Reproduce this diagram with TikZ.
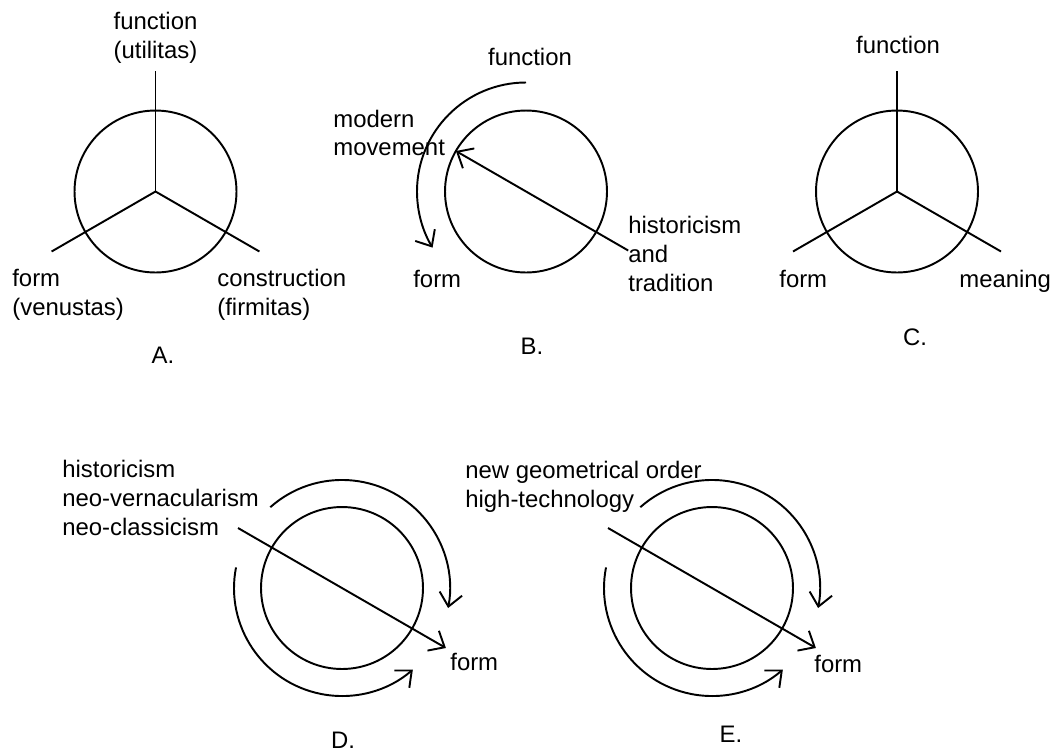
\documentclass[tikz,border=0pt]{standalone}
\usepackage{fontspec}
\setmainfont{Liberation Sans}
\usepackage{tikz}
\usetikzlibrary{arrows.meta}
\tikzset{
  ring/.style={draw, circle, minimum size=3.24cm, inner sep=0pt, line width=1.1pt},
  spoke/.style={draw, line width=1.1pt},
  flow/.style={draw, line width=1.1pt, -{Straight Barb[length=7.5pt, width=13pt, line width=1.1pt]}},
  lbl/.style={font=\fontsize{13.6}{16.3}\selectfont, inner sep=0pt, align=left},
  tag/.style={font=\fontsize{13.6}{16.3}\selectfont, inner sep=0pt, anchor=base},
}

\begin{document}
\begin{tikzpicture}[x=0.02cm, y=0.02cm]
  \useasboundingbox (0,0) rectangle (1054,-751);

  \node[ring] (aRing) at (155.5,-191.5) {};
  \coordinate (aC) at (155.5,-191.5);
  \coordinate (aUp) at (155.5,-71);
  \coordinate (aLeft) at (51.6,-251.5);
  \coordinate (aRight) at (259.4,-251.5);
  \draw[spoke] (aC) -- (aUp);
  \draw[spoke] (aC) -- (aLeft);
  \draw[spoke] (aC) -- (aRight);
  \node[lbl, align=center] (aFun) at (155.5,-38) {function\\(utilitas)};
  \node[lbl, anchor=west] (aForm) at (12,-295) {form\\(venustas)};
  \node[lbl, anchor=west] (aCons) at (217,-295) {construction\\(firmitas)};
  \node[tag] (aTag) at (163,-363) {A.};

  \node[ring] (bRing) at (526,-191.5) {};
  \coordinate (bTop) at (526,-82.5);
  \coordinate (bTail) at (628.2,-250.5);
  \coordinate (bHead) at (455.9,-151);
  \draw[flow] (bTop) arc[start angle=90, end angle=211, radius=109];
  \draw[flow] (bTail) -- (bHead);
  \node[tag] (bFun) at (530,-65) {function};
  \node[lbl, anchor=west] (bMod) at (333,-133) {modern\\movement};
  \node[tag, anchor=base west] (bForm) at (413,-287) {form};
  \node[lbl, anchor=west] (bHist) at (628,-254) {historicism\\and\\tradition};
  \node[tag] (bTag) at (532,-354) {B.};

  \node[ring] (cRing) at (897,-191.5) {};
  \coordinate (cC) at (897,-191.5);
  \coordinate (cUp) at (897,-71);
  \coordinate (cLeft) at (793,-251.5);
  \coordinate (cRight) at (1001,-251.5);
  \draw[spoke] (cC) -- (cUp);
  \draw[spoke] (cC) -- (cLeft);
  \draw[spoke] (cC) -- (cRight);
  \node[tag] (cFun) at (898,-53) {function};
  \node[tag, anchor=base west] (cForm) at (779,-287) {form};
  \node[tag, anchor=base west] (cMean) at (959,-287) {meaning};
  \node[tag] (cTag) at (915,-345) {C.};

  \node[ring] (dRing) at (342,-588) {};
  \coordinate (dArcA) at (270.3,-507.2);
  \coordinate (dArcB) at (236,-567.4);
  \coordinate (dTail) at (238,-528);
  \coordinate (dHead) at (445.9,-648);
  \draw[flow] (dArcA) arc[start angle=131.6, end angle=-10.7, radius=108];
  \draw[flow] (dArcB) arc[start angle=169, end angle=311, radius=108];
  \draw[flow] (dTail) -- (dHead);
  \node[lbl, anchor=west] (dStyles) at (62,-498) {historicism\\neo-vernacularism\\neo-classicism};
  \node[tag, anchor=base west] (dForm) at (450,-670) {form};
  \node[tag] (dTag) at (343,-748) {D.};

  \node[ring] (eRing) at (712,-588) {};
  \coordinate (eArcA) at (640.3,-507.2);
  \coordinate (eArcB) at (606,-567.4);
  \coordinate (eTail) at (608,-528);
  \coordinate (eHead) at (815.9,-648);
  \draw[flow] (eArcA) arc[start angle=131.6, end angle=-10.7, radius=108];
  \draw[flow] (eArcB) arc[start angle=169, end angle=311, radius=108];
  \draw[flow] (eTail) -- (eHead);
  \node[lbl, anchor=west] (eStyles) at (465,-487) {new geometrical order\\high-technology};
  \node[tag, anchor=base west] (eForm) at (814,-672) {form};
  \node[tag] (eTag) at (731,-742) {E.};
\end{tikzpicture}
\end{document}
